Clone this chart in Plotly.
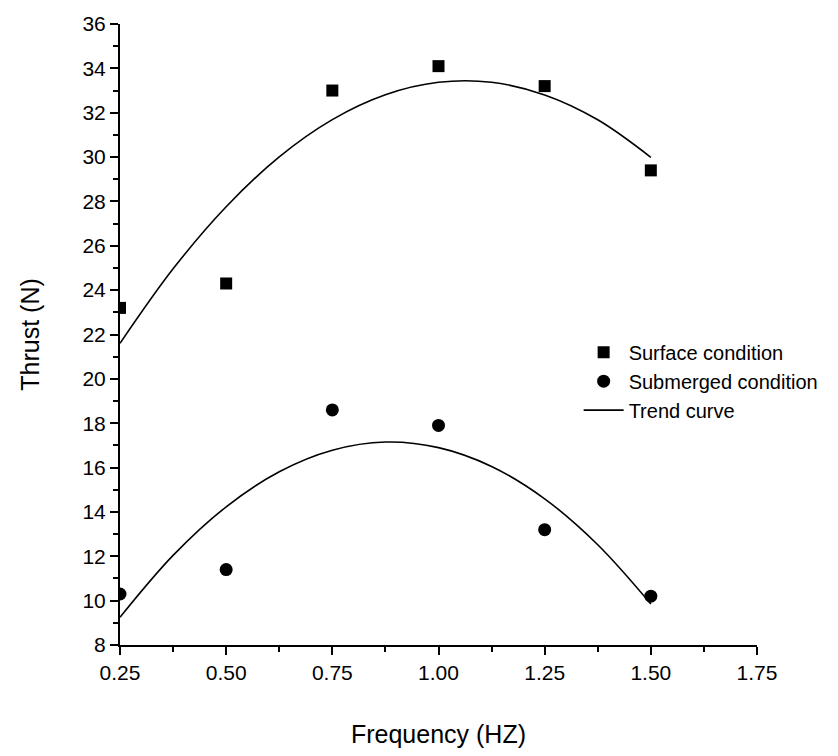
import plotly.graph_objects as go

# Measured data
freq = [0.25, 0.50, 0.75, 1.00, 1.25, 1.50]
surface = [23.2, 24.3, 33.0, 34.1, 33.2, 29.4]
submerged = [10.3, 11.4, 18.6, 17.9, 13.2, 10.2]

# Trend curves
trend_x = [0.25, 0.375, 0.50, 0.625, 0.75, 0.875, 1.00, 1.125, 1.25, 1.375, 1.50]
trend_surface = [21.6, 24.96, 27.76, 30.01, 31.69, 32.81, 33.37, 33.37, 32.80, 31.68, 29.99]
trend_submerged = [9.25, 12.04, 14.23, 15.81, 16.78, 17.15, 16.90, 16.05, 14.59, 12.52, 9.85]

x_ticks = [0.25, 0.50, 0.75, 1.00, 1.25, 1.50, 1.75]
x_ticklabels = ["0.25", "0.50", "0.75", "1.00", "1.25", "1.50", "1.75"]

FONT = "Liberation Sans Narrow, Arial Narrow, Liberation Sans, Arial, sans-serif"

fig = go.Figure()
fig.add_trace(go.Scatter(x=freq, y=surface, mode="markers", name="Surface condition",
                         marker=dict(symbol="square", size=12, color="black")))
fig.add_trace(go.Scatter(x=freq, y=submerged, mode="markers", name="Submerged condition",
                         marker=dict(symbol="circle", size=13, color="black")))
fig.add_trace(go.Scatter(x=trend_x, y=trend_surface, mode="lines", name="Trend curve",
                         line=dict(color="black", width=1.6, shape="spline")))
fig.add_trace(go.Scatter(x=trend_x, y=trend_submerged, mode="lines", name="Trend curve",
                         showlegend=False, line=dict(color="black", width=1.6, shape="spline")))

fig.update_layout(
    width=838, height=756,
    margin=dict(l=120, r=81, t=23, b=110),
    paper_bgcolor="white", plot_bgcolor="white",
    font=dict(family=FONT, size=21, color="black"),
    legend=dict(x=0.72, y=0.503, xanchor="left", yanchor="top",
                bgcolor="rgba(0,0,0,0)", font=dict(size=20, family=FONT),
                itemwidth=40, tracegroupgap=0),
)
fig.update_xaxes(
    range=[0.25, 1.75], tickvals=x_ticks, ticktext=x_ticklabels,
    showgrid=False, zeroline=False, showline=True, linecolor="black", linewidth=2,
    ticks="outside", ticklen=8, tickwidth=2, tickcolor="black",
    minor=dict(dtick=0.125, tick0=0.25, ticks="outside", ticklen=5, tickwidth=2, tickcolor="black"),
    tickfont=dict(size=21, family=FONT),
    title=dict(text="Frequency (HZ)", font=dict(size=25, family=FONT), standoff=42),
)
fig.update_yaxes(
    range=[8, 36], dtick=2, tick0=8,
    showgrid=False, zeroline=False, showline=True, linecolor="black", linewidth=2,
    ticks="outside", ticklen=8, tickwidth=2, tickcolor="black",
    minor=dict(dtick=1, tick0=8, ticks="outside", ticklen=5, tickwidth=2, tickcolor="black"),
    tickfont=dict(size=21, family=FONT),
    title=dict(text="Thrust (N)", font=dict(size=25, family=FONT), standoff=36),
)

fig.write_html("out.html")
